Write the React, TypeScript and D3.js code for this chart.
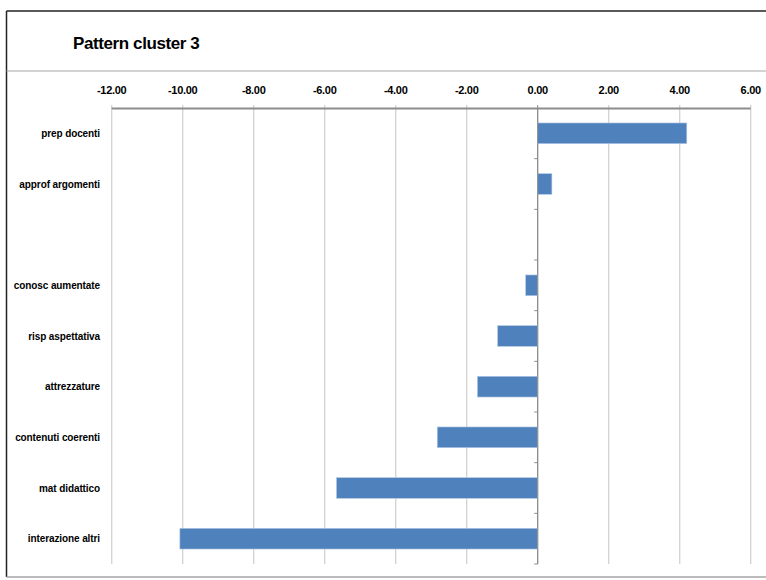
import React from "react";
import * as d3 from "d3";

const categories: string[] = [
  "prep docenti",
  "approf argomenti",
  "",
  "conosc aumentate",
  "risp aspettativa",
  "attrezzature",
  "contenuti coerenti",
  "mat didattico",
  "interazione altri",
];
const values: (number | null)[] = [4.2, 0.4, null, -0.34, -1.13, -1.7, -2.83, -5.67, -10.08];
const xTicks: number[] = [-12, -10, -8, -6, -4, -2, 0, 2, 4, 6];
const title = "Pattern cluster 3";

const W = 766;
const H = 580;
const plot = { left: 111.7, right: 750.7, top: 108, bottom: 564 };

export default function App() {
  const x = d3.scaleLinear().domain([-12, 6]).range([plot.left, plot.right]);
  const y = d3
    .scaleBand<number>()
    .domain(categories.map((_, i) => i))
    .range([plot.top, plot.bottom])
    .padding(0);
  const bw = y.bandwidth();
  const barH = bw * 0.41;
  const fmt = (v: number) => v.toFixed(2);
  const x0 = x(0);
  const font = "'Liberation Sans', Arial, sans-serif";

  return (
    <div style={{ position: "absolute", left: 0, top: 0 }}>
      <svg width={W} height={H} style={{ display: "block" }} fontFamily={font}>
        <rect x={0} y={0} width={W} height={H} fill="#fff" />
        {/* frame */}
        <line x1={6.5} y1={11} x2={W} y2={11} stroke="#222" strokeWidth={1.5} />
        <line x1={6.5} y1={11} x2={6.5} y2={577} stroke="#222" strokeWidth={1.5} />
        <line x1={6.5} y1={577} x2={W} y2={577} stroke="#a6a6a6" strokeWidth={1.5} />
        <line x1={6.5} y1={71} x2={W} y2={71} stroke="#a6a6a6" strokeWidth={1} />
        <text x={73} y={49} fontSize={17} fontWeight="bold" letterSpacing={-0.4} fill="#000">
          {title}
        </text>
        {/* gridlines */}
        {xTicks.map((t) => (
          <line
            key={"g" + t}
            x1={x(t)}
            x2={x(t)}
            y1={plot.top - 3}
            y2={plot.bottom}
            stroke={t === 0 ? "#8c8c8c" : "#d2d2d2"}
            strokeWidth={t === 0 ? 1 : 1.3}
          />
        ))}
        {/* top axis line */}
        <line x1={plot.left} x2={plot.right} y1={plot.top + 0.5} y2={plot.top + 0.5} stroke="#8c8c8c" strokeWidth={2} />
        {xTicks.map((t) => (
          <text
            key={"t" + t}
            x={x(t)}
            y={93.5}
            textAnchor="middle"
            fontSize={11}
            fontWeight="bold"
            letterSpacing={-0.3}
            fill="#000"
          >
            {fmt(t)}
          </text>
        ))}
        {/* bars */}
        {values.map((v, i) =>
          v === null ? null : (
            <rect
              key={"b" + i}
              x={Math.min(x(v), x0)}
              y={(y(i) as number) + bw / 2 - barH / 2}
              width={Math.abs(x(v) - x0)}
              height={barH}
              fill="#4f81bd"
              stroke="#b9cde5"
              strokeWidth={0.6}
            />
          )
        )}
        {/* category axis */}
        <line x1={x0} x2={x0} y1={plot.top} y2={plot.bottom} stroke="#8c8c8c" strokeWidth={1} />
        {categories.map((_, i) => (
          <line
            key={"ct" + i}
            x1={x0 - 3.5}
            x2={x0}
            y1={(y(i) as number) + bw}
            y2={(y(i) as number) + bw}
            stroke="#8c8c8c"
            strokeWidth={1}
          />
        ))}
        {categories.map((c, i) => (
          <text
            key={"c" + i}
            x={100}
            y={(y(i) as number) + bw / 2 + 3.5}
            textAnchor="end"
            fontSize={10}
            fontWeight="bold"
            letterSpacing={-0.1}
            fill="#000"
          >
            {c}
          </text>
        ))}
      </svg>
    </div>
  );
}
